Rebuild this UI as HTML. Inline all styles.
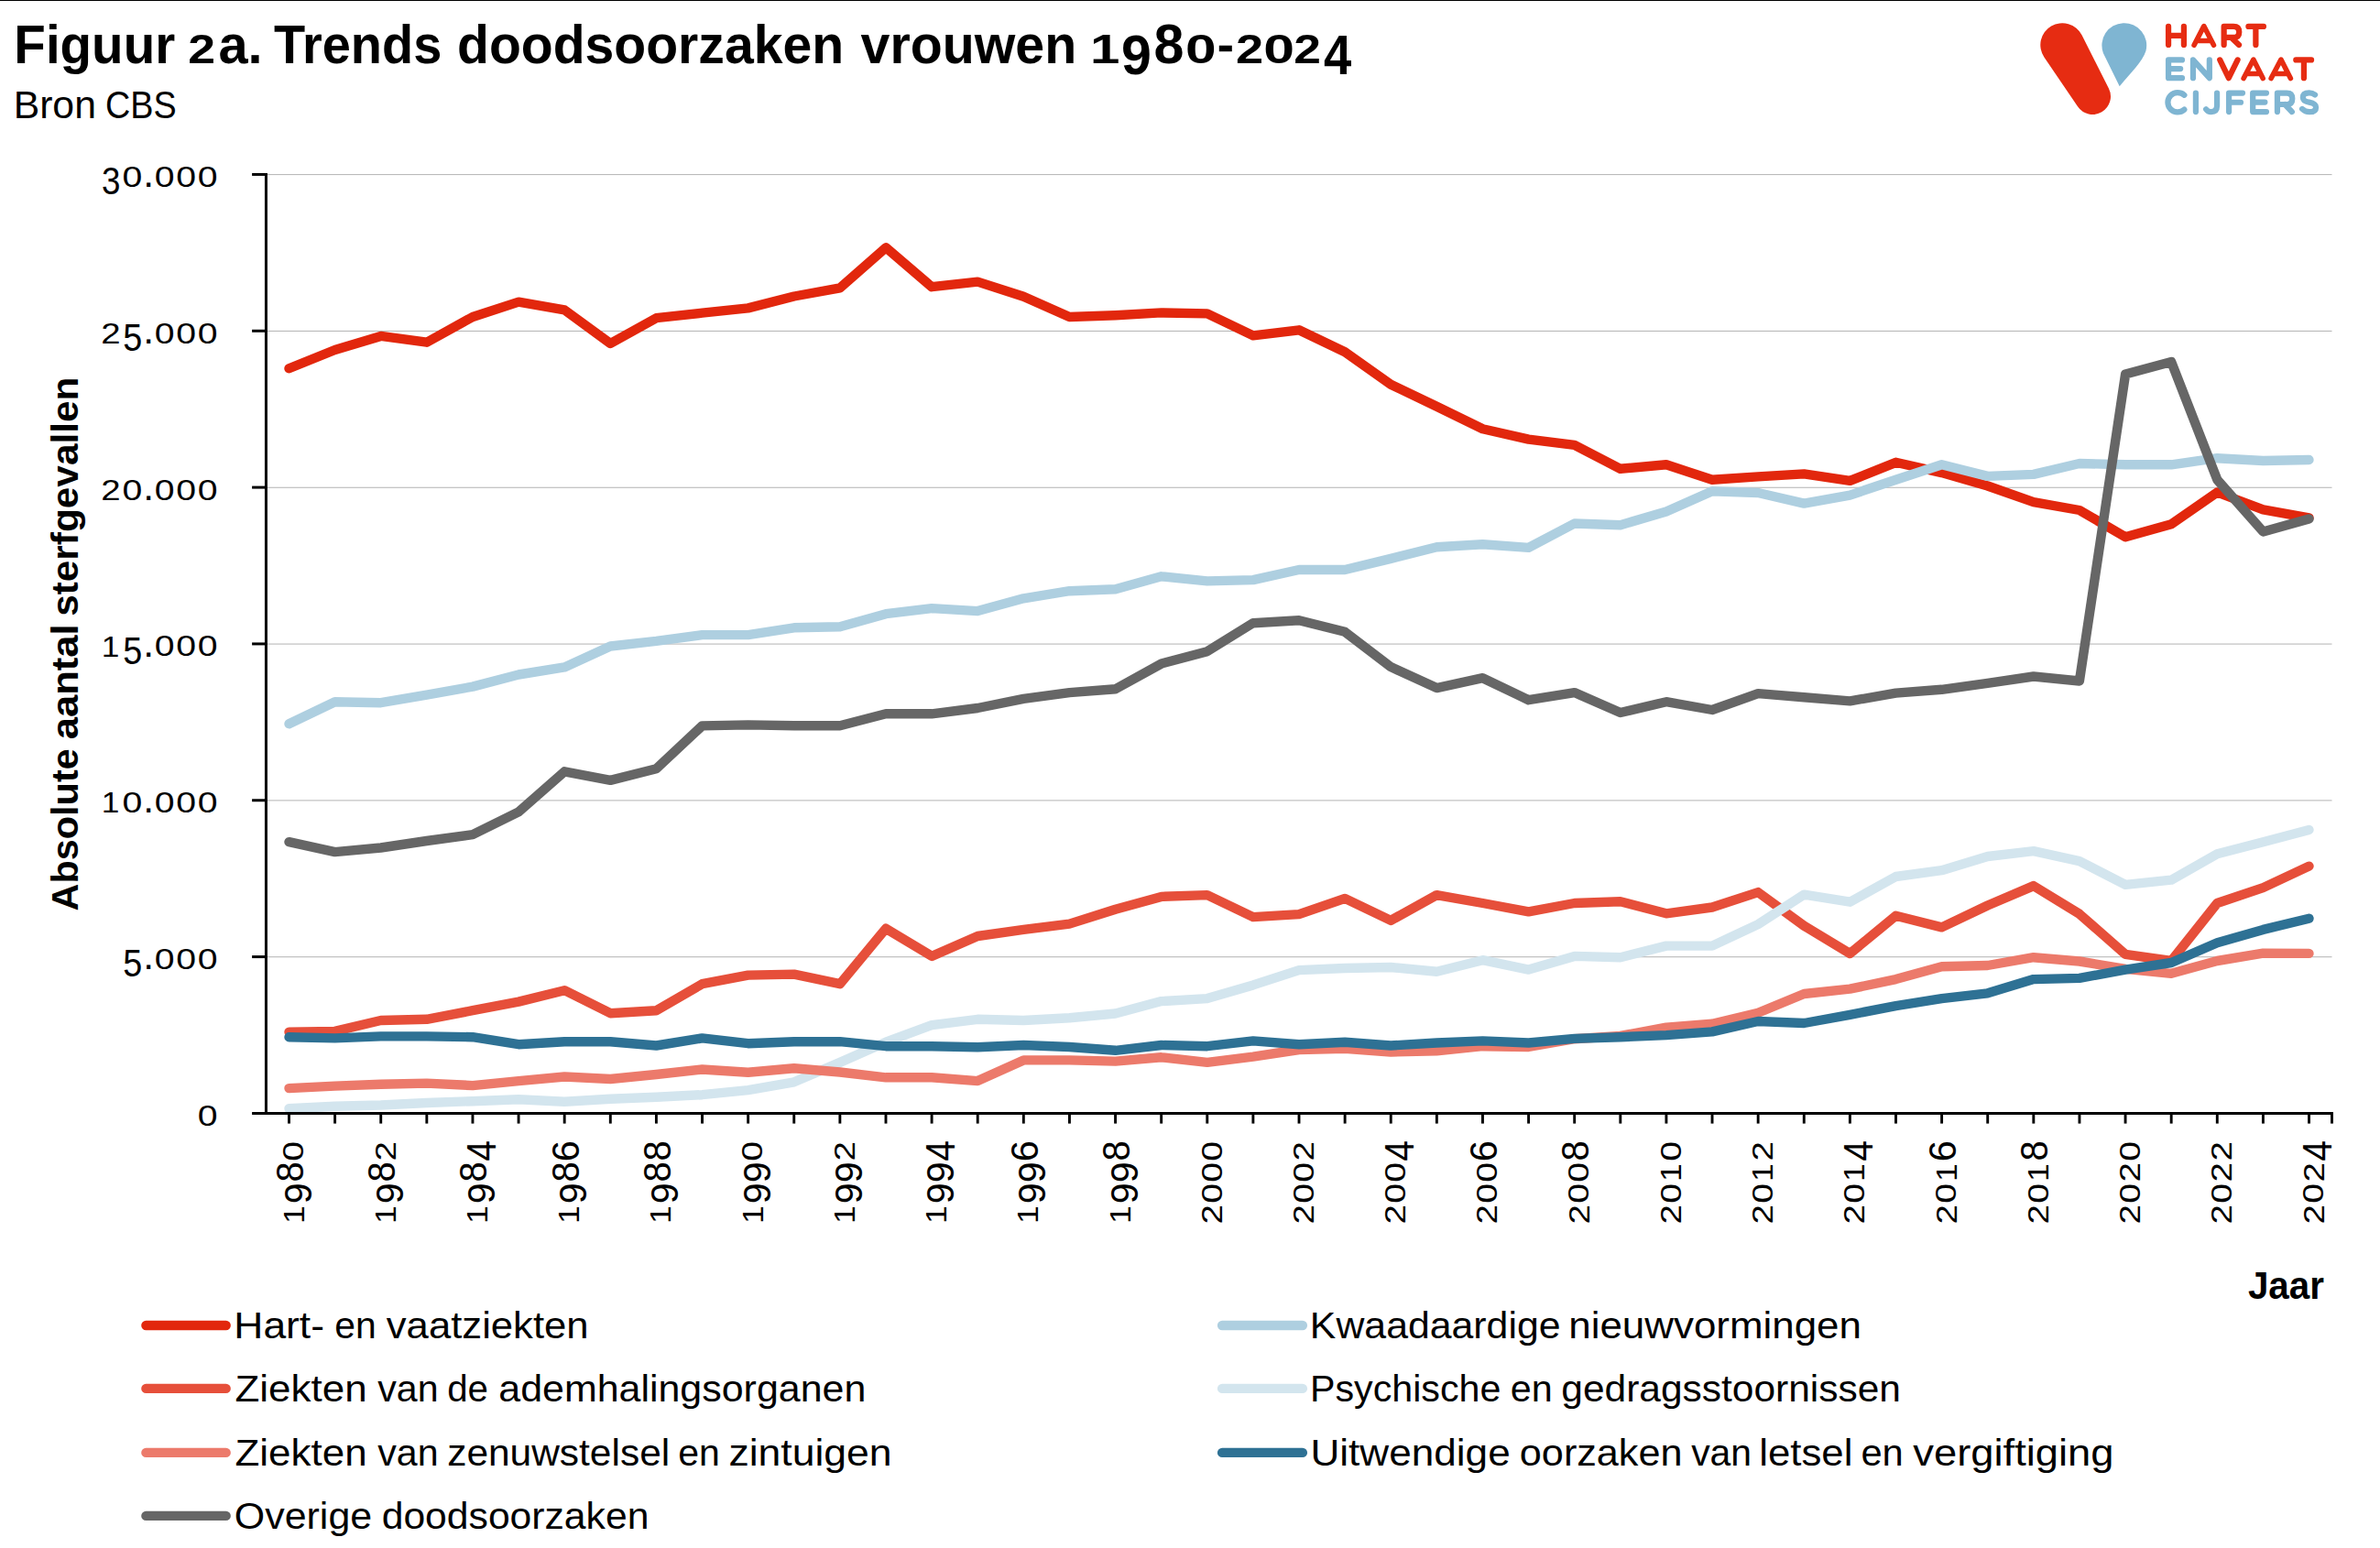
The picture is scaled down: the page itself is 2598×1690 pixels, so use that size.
<!DOCTYPE html>
<html lang="nl"><head><meta charset="utf-8"><title>Figuur 2a. Trends doodsoorzaken vrouwen 1980-2024</title>
<style>html,body{margin:0;padding:0;background:#fff}body{width:2598px;height:1690px;overflow:hidden;font-family:"Liberation Sans",sans-serif}svg{display:block}text{font-family:"Liberation Sans",sans-serif;fill:#000}</style>
</head><body>
<svg width="2598" height="1690" viewBox="0 0 2598 1690" role="img" aria-label="Figuur 2a. Trends doodsoorzaken vrouwen 1980-2024">
<rect x="0" y="0" width="2598" height="1690" fill="#fff"/>
<rect x="0" y="0" width="2598" height="1" fill="#000"/>
<text x="15.37" y="68.80" font-size="58.5" font-weight="bold" textLength="175.83" lengthAdjust="spacingAndGlyphs">Figuur</text>
<text transform="translate(205.32,68.90) scale(0.8933,0.7467)" font-size="60" font-weight="bold">2</text>
<text x="238.40" y="68.80" font-size="58.5" font-weight="bold" textLength="48.22" lengthAdjust="spacingAndGlyphs">a.</text>
<text x="298.90" y="68.80" font-size="58.5" font-weight="bold" textLength="183.37" lengthAdjust="spacingAndGlyphs">Trends</text>
<text x="499.02" y="68.80" font-size="58.5" font-weight="bold" textLength="422.05" lengthAdjust="spacingAndGlyphs">doodsoorzaken</text>
<text x="939.50" y="68.80" font-size="58.5" font-weight="bold" textLength="235.67" lengthAdjust="spacingAndGlyphs">vrouwen</text>
<text transform="translate(1190.06,68.90) scale(0.9707,0.7396)" font-size="60" font-weight="bold">1</text>
<text transform="translate(1224.05,80.64) scale(0.9867,1.0249)" font-size="60" font-weight="bold">9</text>
<text transform="translate(1259.55,68.74) scale(0.9867,1.0226)" font-size="60" font-weight="bold">8</text>
<text transform="translate(1294.01,69.00) scale(1.0082,0.7490)" font-size="60" font-weight="bold">0</text>
<text transform="translate(1348.91,68.90) scale(0.9033,0.7467)" font-size="60" font-weight="bold">2</text>
<text transform="translate(1379.30,69.00) scale(1.0116,0.7490)" font-size="60" font-weight="bold">0</text>
<text transform="translate(1412.13,68.90) scale(0.8900,0.7467)" font-size="60" font-weight="bold">2</text>
<text transform="translate(1445.10,81.00) scale(0.9067,1.0264)" font-size="60" font-weight="bold">4</text>
<rect x="1330.8" y="49.7" width="14" height="6.5" fill="#000"/>
<text x="14.66" y="129.40" font-size="41.7" textLength="90.24" lengthAdjust="spacingAndGlyphs">Bron</text>
<text x="115.03" y="129.40" font-size="41.7" textLength="77.66" lengthAdjust="spacingAndGlyphs">CBS</text>
<g stroke="#B3B3B3" stroke-width="1">
<line x1="290.45" y1="1044.73" x2="2545.5" y2="1044.73"/>
<line x1="290.45" y1="873.90" x2="2545.5" y2="873.90"/>
<line x1="290.45" y1="703.08" x2="2545.5" y2="703.08"/>
<line x1="290.45" y1="532.25" x2="2545.5" y2="532.25"/>
<line x1="290.45" y1="361.43" x2="2545.5" y2="361.43"/>
<line x1="290.45" y1="190.60" x2="2545.5" y2="190.60"/>
</g>
<g fill="none" stroke-width="10.4" stroke-linecap="round" stroke-linejoin="round">
<polyline stroke="#E2270D" points="315.5,402.2 365.6,382.0 415.7,366.9 465.8,373.7 516.0,346.0 566.1,329.6 616.2,338.4 666.3,375.0 716.4,347.2 766.5,341.7 816.6,336.4 866.8,323.5 916.9,314.4 967.0,270.3 1017.1,313.2 1067.2,307.6 1117.3,323.8 1167.4,346.0 1217.6,344.2 1267.7,341.4 1317.8,342.4 1367.9,366.4 1418.0,360.3 1468.1,384.3 1518.2,419.8 1568.3,443.8 1618.5,468.2 1668.6,479.6 1718.7,485.9 1768.8,511.8 1818.9,507.3 1869.0,523.7 1919.1,520.4 1969.3,517.4 2019.4,524.9 2069.5,504.8 2119.6,516.1 2169.7,530.5 2219.8,548.1 2269.9,557.0 2320.1,586.2 2370.2,572.3 2420.3,537.5 2470.4,556.4 2520.5,565.3"/>
<polyline stroke="#AECFE0" points="315.5,790.2 365.6,766.2 415.7,767.2 465.8,758.6 516.0,749.6 566.1,736.5 616.2,728.4 666.3,705.5 716.4,699.9 766.5,693.1 816.6,693.1 866.8,685.3 916.9,684.3 967.0,670.2 1017.1,664.1 1067.2,667.1 1117.3,653.3 1167.4,645.2 1217.6,643.2 1267.7,629.3 1317.8,634.4 1367.9,633.1 1418.0,622.0 1468.1,622.0 1518.2,609.9 1568.3,597.2 1618.5,594.2 1668.6,597.9 1718.7,571.5 1768.8,573.2 1818.9,558.5 1869.0,536.3 1919.1,538.0 1969.3,549.6 2019.4,540.6 2069.5,523.7 2119.6,507.3 2169.7,519.9 2219.8,517.9 2269.9,506.0 2320.1,507.3 2370.2,507.3 2420.3,500.2 2470.4,503.0 2520.5,502.0"/>
<polyline stroke="#E64F3A" points="315.5,1126.6 365.6,1125.9 415.7,1114.0 465.8,1112.8 516.0,1103.2 566.1,1093.6 616.2,1081.2 666.3,1106.2 716.4,1103.2 766.5,1074.2 816.6,1064.6 866.8,1063.6 916.9,1074.2 967.0,1013.7 1017.1,1043.9 1067.2,1022.0 1117.3,1014.9 1167.4,1008.6 1217.6,992.8 1267.7,978.9 1317.8,977.1 1367.9,1001.1 1418.0,998.1 1468.1,980.9 1518.2,1004.9 1568.3,977.1 1618.5,986.0 1668.6,995.3 1718.7,986.0 1768.8,984.2 1818.9,997.3 1869.0,990.5 1919.1,974.1 1969.3,1010.7 2019.4,1041.0 2069.5,999.8 2119.6,1012.4 2169.7,988.5 2219.8,967.1 2269.9,997.8 2320.1,1041.9 2370.2,1049.0 2420.3,986.0 2470.4,969.1 2520.5,945.6"/>
<polyline stroke="#D3E5EE" points="315.5,1210.3 365.6,1207.8 415.7,1206.5 465.8,1204.0 516.0,1202.2 566.1,1200.2 616.2,1202.7 666.3,1199.7 716.4,1197.7 766.5,1195.2 816.6,1190.1 866.8,1181.3 916.9,1159.9 967.0,1137.7 1017.1,1119.1 1067.2,1112.8 1117.3,1114.0 1167.4,1111.2 1217.6,1106.5 1267.7,1093.1 1317.8,1090.1 1367.9,1075.4 1418.0,1059.1 1468.1,1057.0 1518.2,1056.0 1568.3,1060.8 1618.5,1048.2 1668.6,1058.6 1718.7,1043.9 1768.8,1045.2 1818.9,1032.6 1869.0,1032.6 1919.1,1009.1 1969.3,976.6 2019.4,984.7 2069.5,957.0 2119.6,950.2 2169.7,935.0 2219.8,929.2 2269.9,940.1 2320.1,965.8 2370.2,960.7 2420.3,932.3 2470.4,919.2 2520.5,906.0"/>
<polyline stroke="#EC7A6B" points="315.5,1188.1 365.6,1185.6 415.7,1183.8 465.8,1182.6 516.0,1185.1 566.1,1180.1 616.2,1175.5 666.3,1178.0 716.4,1173.0 766.5,1167.5 816.6,1170.7 866.8,1166.2 916.9,1170.5 967.0,1176.3 1017.1,1176.3 1067.2,1180.1 1117.3,1157.4 1167.4,1157.4 1217.6,1158.6 1267.7,1154.3 1317.8,1159.9 1367.9,1153.6 1418.0,1146.0 1468.1,1144.8 1518.2,1148.5 1568.3,1147.3 1618.5,1142.2 1668.6,1143.0 1718.7,1134.2 1768.8,1130.9 1818.9,1121.6 1869.0,1117.8 1919.1,1105.7 1969.3,1085.0 2019.4,1079.7 2069.5,1069.1 2119.6,1055.3 2169.7,1054.0 2219.8,1045.2 2269.9,1049.5 2320.1,1057.8 2370.2,1062.8 2420.3,1049.0 2470.4,1040.7 2520.5,1040.9"/>
<polyline stroke="#2E7194" points="315.5,1132.2 365.6,1133.4 415.7,1131.4 465.8,1131.4 516.0,1132.2 566.1,1140.2 616.2,1137.2 666.3,1137.2 716.4,1141.5 766.5,1133.4 816.6,1139.2 866.8,1137.2 916.9,1137.2 967.0,1142.2 1017.1,1142.2 1067.2,1143.3 1117.3,1141.0 1167.4,1143.0 1217.6,1146.8 1267.7,1141.0 1317.8,1142.2 1367.9,1136.4 1418.0,1140.2 1468.1,1137.7 1518.2,1141.5 1568.3,1138.5 1618.5,1136.4 1668.6,1138.5 1718.7,1133.9 1768.8,1132.2 1818.9,1130.1 1869.0,1126.4 1919.1,1115.0 1969.3,1117.0 2019.4,1107.8 2069.5,1098.1 2119.6,1090.1 2169.7,1084.3 2219.8,1069.1 2269.9,1067.9 2320.1,1058.6 2370.2,1051.0 2420.3,1029.3 2470.4,1014.9 2520.5,1002.8"/>
<polyline stroke="#666666" points="315.5,919.2 365.6,930.1 415.7,925.5 465.8,918.0 516.0,911.2 566.1,886.4 616.2,842.3 666.3,851.9 716.4,839.3 766.5,792.4 816.6,791.4 866.8,792.2 916.9,792.2 967.0,779.3 1017.1,779.3 1067.2,773.0 1117.3,762.9 1167.4,756.1 1217.6,752.3 1267.7,724.6 1317.8,711.2 1367.9,680.2 1418.0,677.2 1468.1,689.8 1518.2,728.1 1568.3,751.1 1618.5,740.2 1668.6,764.2 1718.7,756.1 1768.8,778.0 1818.9,766.2 1869.0,775.0 1919.1,757.1 1969.3,761.2 2019.4,765.4 2069.5,756.6 2119.6,752.8 2169.7,745.8 2219.8,738.5 2269.9,743.5 2320.1,408.5 2370.2,395.1 2420.3,523.7 2470.4,580.4 2520.5,566.5"/>
</g>
<g stroke="#000" stroke-width="3.0" fill="none">
<line x1="290.45" y1="189.00" x2="290.45" y2="1216.80"/>
<line x1="275.1" y1="1215.4" x2="2546.95" y2="1215.4"/>
<line x1="275.1" y1="1044.58" x2="290.45" y2="1044.58"/>
<line x1="275.1" y1="873.75" x2="290.45" y2="873.75"/>
<line x1="275.1" y1="702.93" x2="290.45" y2="702.93"/>
<line x1="275.1" y1="532.10" x2="290.45" y2="532.10"/>
<line x1="275.1" y1="361.28" x2="290.45" y2="361.28"/>
<line x1="275.1" y1="190.45" x2="290.45" y2="190.45"/>
</g>
<g stroke="#000" stroke-width="2.9" fill="none">
<line x1="315.50" y1="1215.4" x2="315.50" y2="1226.6"/>
<line x1="365.61" y1="1215.4" x2="365.61" y2="1226.6"/>
<line x1="415.73" y1="1215.4" x2="415.73" y2="1226.6"/>
<line x1="465.84" y1="1215.4" x2="465.84" y2="1226.6"/>
<line x1="515.96" y1="1215.4" x2="515.96" y2="1226.6"/>
<line x1="566.07" y1="1215.4" x2="566.07" y2="1226.6"/>
<line x1="616.18" y1="1215.4" x2="616.18" y2="1226.6"/>
<line x1="666.30" y1="1215.4" x2="666.30" y2="1226.6"/>
<line x1="716.41" y1="1215.4" x2="716.41" y2="1226.6"/>
<line x1="766.53" y1="1215.4" x2="766.53" y2="1226.6"/>
<line x1="816.64" y1="1215.4" x2="816.64" y2="1226.6"/>
<line x1="866.75" y1="1215.4" x2="866.75" y2="1226.6"/>
<line x1="916.87" y1="1215.4" x2="916.87" y2="1226.6"/>
<line x1="966.98" y1="1215.4" x2="966.98" y2="1226.6"/>
<line x1="1017.10" y1="1215.4" x2="1017.10" y2="1226.6"/>
<line x1="1067.21" y1="1215.4" x2="1067.21" y2="1226.6"/>
<line x1="1117.32" y1="1215.4" x2="1117.32" y2="1226.6"/>
<line x1="1167.44" y1="1215.4" x2="1167.44" y2="1226.6"/>
<line x1="1217.55" y1="1215.4" x2="1217.55" y2="1226.6"/>
<line x1="1267.67" y1="1215.4" x2="1267.67" y2="1226.6"/>
<line x1="1317.78" y1="1215.4" x2="1317.78" y2="1226.6"/>
<line x1="1367.89" y1="1215.4" x2="1367.89" y2="1226.6"/>
<line x1="1418.01" y1="1215.4" x2="1418.01" y2="1226.6"/>
<line x1="1468.12" y1="1215.4" x2="1468.12" y2="1226.6"/>
<line x1="1518.24" y1="1215.4" x2="1518.24" y2="1226.6"/>
<line x1="1568.35" y1="1215.4" x2="1568.35" y2="1226.6"/>
<line x1="1618.46" y1="1215.4" x2="1618.46" y2="1226.6"/>
<line x1="1668.58" y1="1215.4" x2="1668.58" y2="1226.6"/>
<line x1="1718.69" y1="1215.4" x2="1718.69" y2="1226.6"/>
<line x1="1768.81" y1="1215.4" x2="1768.81" y2="1226.6"/>
<line x1="1818.92" y1="1215.4" x2="1818.92" y2="1226.6"/>
<line x1="1869.03" y1="1215.4" x2="1869.03" y2="1226.6"/>
<line x1="1919.15" y1="1215.4" x2="1919.15" y2="1226.6"/>
<line x1="1969.26" y1="1215.4" x2="1969.26" y2="1226.6"/>
<line x1="2019.38" y1="1215.4" x2="2019.38" y2="1226.6"/>
<line x1="2069.49" y1="1215.4" x2="2069.49" y2="1226.6"/>
<line x1="2119.60" y1="1215.4" x2="2119.60" y2="1226.6"/>
<line x1="2169.72" y1="1215.4" x2="2169.72" y2="1226.6"/>
<line x1="2219.83" y1="1215.4" x2="2219.83" y2="1226.6"/>
<line x1="2269.95" y1="1215.4" x2="2269.95" y2="1226.6"/>
<line x1="2320.06" y1="1215.4" x2="2320.06" y2="1226.6"/>
<line x1="2370.17" y1="1215.4" x2="2370.17" y2="1226.6"/>
<line x1="2420.29" y1="1215.4" x2="2420.29" y2="1226.6"/>
<line x1="2470.40" y1="1215.4" x2="2470.40" y2="1226.6"/>
<line x1="2520.52" y1="1215.4" x2="2520.52" y2="1226.6"/>
<line x1="2545.5" y1="1215.4" x2="2545.5" y2="1226.6"/>
</g>
<text transform="translate(215.77,1228.90) scale(0.9224,0.7529)" font-size="42.5">0</text>
<text transform="translate(134.16,1066.30) scale(0.8890,1.0181)" font-size="42.5">5</text>
<text x="156.24" y="1058.28" font-size="42.5">.</text>
<text transform="translate(168.77,1058.08) scale(0.9224,0.7529)" font-size="42.5">0</text>
<text transform="translate(192.27,1058.08) scale(0.9224,0.7529)" font-size="42.5">0</text>
<text transform="translate(215.77,1058.08) scale(0.9224,0.7529)" font-size="42.5">0</text>
<text transform="translate(110.79,887.45) scale(0.8308,0.7496)" font-size="42.5">1</text>
<text transform="translate(133.47,887.25) scale(0.9224,0.7529)" font-size="42.5">0</text>
<text x="156.24" y="887.45" font-size="42.5">.</text>
<text transform="translate(168.77,887.25) scale(0.9224,0.7529)" font-size="42.5">0</text>
<text transform="translate(192.27,887.25) scale(0.9224,0.7529)" font-size="42.5">0</text>
<text transform="translate(215.77,887.25) scale(0.9224,0.7529)" font-size="42.5">0</text>
<text transform="translate(110.79,716.63) scale(0.8308,0.7496)" font-size="42.5">1</text>
<text transform="translate(134.16,724.65) scale(0.8890,1.0181)" font-size="42.5">5</text>
<text x="156.24" y="716.63" font-size="42.5">.</text>
<text transform="translate(168.77,716.43) scale(0.9224,0.7529)" font-size="42.5">0</text>
<text transform="translate(192.27,716.43) scale(0.9224,0.7529)" font-size="42.5">0</text>
<text transform="translate(215.77,716.43) scale(0.9224,0.7529)" font-size="42.5">0</text>
<text transform="translate(110.19,545.80) scale(0.9035,0.7496)" font-size="42.5">2</text>
<text transform="translate(133.47,545.60) scale(0.9224,0.7529)" font-size="42.5">0</text>
<text x="156.24" y="545.80" font-size="42.5">.</text>
<text transform="translate(168.77,545.60) scale(0.9224,0.7529)" font-size="42.5">0</text>
<text transform="translate(192.27,545.60) scale(0.9224,0.7529)" font-size="42.5">0</text>
<text transform="translate(215.77,545.60) scale(0.9224,0.7529)" font-size="42.5">0</text>
<text transform="translate(110.19,374.98) scale(0.9035,0.7496)" font-size="42.5">2</text>
<text transform="translate(134.16,383.00) scale(0.8890,1.0181)" font-size="42.5">5</text>
<text x="156.24" y="374.98" font-size="42.5">.</text>
<text transform="translate(168.77,374.78) scale(0.9224,0.7529)" font-size="42.5">0</text>
<text transform="translate(192.27,374.78) scale(0.9224,0.7529)" font-size="42.5">0</text>
<text transform="translate(215.77,374.78) scale(0.9224,0.7529)" font-size="42.5">0</text>
<text transform="translate(110.94,212.17) scale(0.8647,1.0181)" font-size="42.5">3</text>
<text transform="translate(133.47,203.95) scale(0.9224,0.7529)" font-size="42.5">0</text>
<text x="156.24" y="204.15" font-size="42.5">.</text>
<text transform="translate(168.77,203.95) scale(0.9224,0.7529)" font-size="42.5">0</text>
<text transform="translate(192.27,203.95) scale(0.9224,0.7529)" font-size="42.5">0</text>
<text transform="translate(215.77,203.95) scale(0.9224,0.7529)" font-size="42.5">0</text>
<g transform="translate(331.50,1337.3) rotate(-90)">
<text transform="translate(1.32,0.00) scale(0.8308,0.7496)" font-size="42.5">1</text>
<text transform="translate(23.00,8.02) scale(0.9688,1.0181)" font-size="42.5">9</text>
<text transform="translate(46.73,-0.68) scale(0.9375,1.0181)" font-size="42.5">8</text>
<text transform="translate(69.65,-0.20) scale(0.9224,0.7529)" font-size="42.5">0</text>
</g>
<g transform="translate(431.73,1337.3) rotate(-90)">
<text transform="translate(1.32,0.00) scale(0.8308,0.7496)" font-size="42.5">1</text>
<text transform="translate(23.00,8.02) scale(0.9688,1.0181)" font-size="42.5">9</text>
<text transform="translate(46.73,-0.68) scale(0.9375,1.0181)" font-size="42.5">8</text>
<text transform="translate(69.88,0.00) scale(0.9035,0.7496)" font-size="42.5">2</text>
</g>
<g transform="translate(531.96,1337.3) rotate(-90)">
<text transform="translate(1.32,0.00) scale(0.8308,0.7496)" font-size="42.5">1</text>
<text transform="translate(23.00,8.02) scale(0.9688,1.0181)" font-size="42.5">9</text>
<text transform="translate(46.73,-0.68) scale(0.9375,1.0181)" font-size="42.5">8</text>
<text transform="translate(69.54,8.70) scale(0.9583,1.0407)" font-size="42.5">4</text>
</g>
<g transform="translate(632.18,1337.3) rotate(-90)">
<text transform="translate(1.32,0.00) scale(0.8308,0.7496)" font-size="42.5">1</text>
<text transform="translate(23.00,8.02) scale(0.9688,1.0181)" font-size="42.5">9</text>
<text transform="translate(46.73,-0.68) scale(0.9375,1.0181)" font-size="42.5">8</text>
<text transform="translate(68.98,-0.68) scale(0.9788,1.0181)" font-size="42.5">6</text>
</g>
<g transform="translate(732.41,1337.3) rotate(-90)">
<text transform="translate(1.32,0.00) scale(0.8308,0.7496)" font-size="42.5">1</text>
<text transform="translate(23.00,8.02) scale(0.9688,1.0181)" font-size="42.5">9</text>
<text transform="translate(46.73,-0.68) scale(0.9375,1.0181)" font-size="42.5">8</text>
<text transform="translate(69.78,-0.68) scale(0.9375,1.0181)" font-size="42.5">8</text>
</g>
<g transform="translate(832.64,1337.3) rotate(-90)">
<text transform="translate(1.32,0.00) scale(0.8308,0.7496)" font-size="42.5">1</text>
<text transform="translate(23.00,8.02) scale(0.9688,1.0181)" font-size="42.5">9</text>
<text transform="translate(46.05,8.02) scale(0.9688,1.0181)" font-size="42.5">9</text>
<text transform="translate(69.65,-0.20) scale(0.9224,0.7529)" font-size="42.5">0</text>
</g>
<g transform="translate(932.87,1337.3) rotate(-90)">
<text transform="translate(1.32,0.00) scale(0.8308,0.7496)" font-size="42.5">1</text>
<text transform="translate(23.00,8.02) scale(0.9688,1.0181)" font-size="42.5">9</text>
<text transform="translate(46.05,8.02) scale(0.9688,1.0181)" font-size="42.5">9</text>
<text transform="translate(69.88,0.00) scale(0.9035,0.7496)" font-size="42.5">2</text>
</g>
<g transform="translate(1033.10,1337.3) rotate(-90)">
<text transform="translate(1.32,0.00) scale(0.8308,0.7496)" font-size="42.5">1</text>
<text transform="translate(23.00,8.02) scale(0.9688,1.0181)" font-size="42.5">9</text>
<text transform="translate(46.05,8.02) scale(0.9688,1.0181)" font-size="42.5">9</text>
<text transform="translate(69.54,8.70) scale(0.9583,1.0407)" font-size="42.5">4</text>
</g>
<g transform="translate(1133.32,1337.3) rotate(-90)">
<text transform="translate(1.32,0.00) scale(0.8308,0.7496)" font-size="42.5">1</text>
<text transform="translate(23.00,8.02) scale(0.9688,1.0181)" font-size="42.5">9</text>
<text transform="translate(46.05,8.02) scale(0.9688,1.0181)" font-size="42.5">9</text>
<text transform="translate(68.98,-0.68) scale(0.9788,1.0181)" font-size="42.5">6</text>
</g>
<g transform="translate(1233.55,1337.3) rotate(-90)">
<text transform="translate(1.32,0.00) scale(0.8308,0.7496)" font-size="42.5">1</text>
<text transform="translate(23.00,8.02) scale(0.9688,1.0181)" font-size="42.5">9</text>
<text transform="translate(46.05,8.02) scale(0.9688,1.0181)" font-size="42.5">9</text>
<text transform="translate(69.78,-0.68) scale(0.9375,1.0181)" font-size="42.5">8</text>
</g>
<g transform="translate(1333.78,1337.3) rotate(-90)">
<text transform="translate(0.73,0.00) scale(0.9035,0.7496)" font-size="42.5">2</text>
<text transform="translate(23.55,-0.20) scale(0.9224,0.7529)" font-size="42.5">0</text>
<text transform="translate(46.60,-0.20) scale(0.9224,0.7529)" font-size="42.5">0</text>
<text transform="translate(69.65,-0.20) scale(0.9224,0.7529)" font-size="42.5">0</text>
</g>
<g transform="translate(1434.01,1337.3) rotate(-90)">
<text transform="translate(0.73,0.00) scale(0.9035,0.7496)" font-size="42.5">2</text>
<text transform="translate(23.55,-0.20) scale(0.9224,0.7529)" font-size="42.5">0</text>
<text transform="translate(46.60,-0.20) scale(0.9224,0.7529)" font-size="42.5">0</text>
<text transform="translate(69.88,0.00) scale(0.9035,0.7496)" font-size="42.5">2</text>
</g>
<g transform="translate(1534.24,1337.3) rotate(-90)">
<text transform="translate(0.73,0.00) scale(0.9035,0.7496)" font-size="42.5">2</text>
<text transform="translate(23.55,-0.20) scale(0.9224,0.7529)" font-size="42.5">0</text>
<text transform="translate(46.60,-0.20) scale(0.9224,0.7529)" font-size="42.5">0</text>
<text transform="translate(69.54,8.70) scale(0.9583,1.0407)" font-size="42.5">4</text>
</g>
<g transform="translate(1634.46,1337.3) rotate(-90)">
<text transform="translate(0.73,0.00) scale(0.9035,0.7496)" font-size="42.5">2</text>
<text transform="translate(23.55,-0.20) scale(0.9224,0.7529)" font-size="42.5">0</text>
<text transform="translate(46.60,-0.20) scale(0.9224,0.7529)" font-size="42.5">0</text>
<text transform="translate(68.98,-0.68) scale(0.9788,1.0181)" font-size="42.5">6</text>
</g>
<g transform="translate(1734.69,1337.3) rotate(-90)">
<text transform="translate(0.73,0.00) scale(0.9035,0.7496)" font-size="42.5">2</text>
<text transform="translate(23.55,-0.20) scale(0.9224,0.7529)" font-size="42.5">0</text>
<text transform="translate(46.60,-0.20) scale(0.9224,0.7529)" font-size="42.5">0</text>
<text transform="translate(69.78,-0.68) scale(0.9375,1.0181)" font-size="42.5">8</text>
</g>
<g transform="translate(1834.92,1337.3) rotate(-90)">
<text transform="translate(0.73,0.00) scale(0.9035,0.7496)" font-size="42.5">2</text>
<text transform="translate(23.55,-0.20) scale(0.9224,0.7529)" font-size="42.5">0</text>
<text transform="translate(47.42,0.00) scale(0.8308,0.7496)" font-size="42.5">1</text>
<text transform="translate(69.65,-0.20) scale(0.9224,0.7529)" font-size="42.5">0</text>
</g>
<g transform="translate(1935.15,1337.3) rotate(-90)">
<text transform="translate(0.73,0.00) scale(0.9035,0.7496)" font-size="42.5">2</text>
<text transform="translate(23.55,-0.20) scale(0.9224,0.7529)" font-size="42.5">0</text>
<text transform="translate(47.42,0.00) scale(0.8308,0.7496)" font-size="42.5">1</text>
<text transform="translate(69.88,0.00) scale(0.9035,0.7496)" font-size="42.5">2</text>
</g>
<g transform="translate(2035.38,1337.3) rotate(-90)">
<text transform="translate(0.73,0.00) scale(0.9035,0.7496)" font-size="42.5">2</text>
<text transform="translate(23.55,-0.20) scale(0.9224,0.7529)" font-size="42.5">0</text>
<text transform="translate(47.42,0.00) scale(0.8308,0.7496)" font-size="42.5">1</text>
<text transform="translate(69.54,8.70) scale(0.9583,1.0407)" font-size="42.5">4</text>
</g>
<g transform="translate(2135.60,1337.3) rotate(-90)">
<text transform="translate(0.73,0.00) scale(0.9035,0.7496)" font-size="42.5">2</text>
<text transform="translate(23.55,-0.20) scale(0.9224,0.7529)" font-size="42.5">0</text>
<text transform="translate(47.42,0.00) scale(0.8308,0.7496)" font-size="42.5">1</text>
<text transform="translate(68.98,-0.68) scale(0.9788,1.0181)" font-size="42.5">6</text>
</g>
<g transform="translate(2235.83,1337.3) rotate(-90)">
<text transform="translate(0.73,0.00) scale(0.9035,0.7496)" font-size="42.5">2</text>
<text transform="translate(23.55,-0.20) scale(0.9224,0.7529)" font-size="42.5">0</text>
<text transform="translate(47.42,0.00) scale(0.8308,0.7496)" font-size="42.5">1</text>
<text transform="translate(69.78,-0.68) scale(0.9375,1.0181)" font-size="42.5">8</text>
</g>
<g transform="translate(2336.06,1337.3) rotate(-90)">
<text transform="translate(0.73,0.00) scale(0.9035,0.7496)" font-size="42.5">2</text>
<text transform="translate(23.55,-0.20) scale(0.9224,0.7529)" font-size="42.5">0</text>
<text transform="translate(46.83,0.00) scale(0.9035,0.7496)" font-size="42.5">2</text>
<text transform="translate(69.65,-0.20) scale(0.9224,0.7529)" font-size="42.5">0</text>
</g>
<g transform="translate(2436.29,1337.3) rotate(-90)">
<text transform="translate(0.73,0.00) scale(0.9035,0.7496)" font-size="42.5">2</text>
<text transform="translate(23.55,-0.20) scale(0.9224,0.7529)" font-size="42.5">0</text>
<text transform="translate(46.83,0.00) scale(0.9035,0.7496)" font-size="42.5">2</text>
<text transform="translate(69.88,0.00) scale(0.9035,0.7496)" font-size="42.5">2</text>
</g>
<g transform="translate(2536.52,1337.3) rotate(-90)">
<text transform="translate(0.73,0.00) scale(0.9035,0.7496)" font-size="42.5">2</text>
<text transform="translate(23.55,-0.20) scale(0.9224,0.7529)" font-size="42.5">0</text>
<text transform="translate(46.83,0.00) scale(0.9035,0.7496)" font-size="42.5">2</text>
<text transform="translate(69.54,8.70) scale(0.9583,1.0407)" font-size="42.5">4</text>
</g>
<text transform="translate(85.00,993.80) rotate(-90)" x="-0.65" y="0.00" font-size="41.5" font-weight="bold" textLength="177.18" lengthAdjust="spacingAndGlyphs">Absolute</text>
<text transform="translate(85.00,993.80) rotate(-90)" x="186.52" y="0.00" font-size="41.5" font-weight="bold" textLength="125.85" lengthAdjust="spacingAndGlyphs">aantal</text>
<text transform="translate(85.00,993.80) rotate(-90)" x="320.98" y="0.00" font-size="41.5" font-weight="bold" textLength="261.27" lengthAdjust="spacingAndGlyphs">sterfgevallen</text>
<text x="2453.90" y="1417.90" font-size="41.9" font-weight="bold" textLength="82.97" lengthAdjust="spacingAndGlyphs">Jaar</text>
<g fill="none" stroke-width="10.4" stroke-linecap="round">
<line x1="159.4" y1="1447.0" x2="246.7" y2="1447.0" stroke="#E2270D"/>
<line x1="159.4" y1="1515.9" x2="246.7" y2="1515.9" stroke="#E64F3A"/>
<line x1="159.4" y1="1585.9" x2="246.7" y2="1585.9" stroke="#EC7A6B"/>
<line x1="159.4" y1="1654.9" x2="246.7" y2="1654.9" stroke="#666666"/>
<line x1="1334.1" y1="1447.0" x2="1421.9" y2="1447.0" stroke="#AECFE0"/>
<line x1="1334.1" y1="1515.9" x2="1421.9" y2="1515.9" stroke="#D3E5EE"/>
<line x1="1334.1" y1="1585.9" x2="1421.9" y2="1585.9" stroke="#2E7194"/>
</g>
<text x="255.33" y="1461.00" font-size="40.4" textLength="98.67" lengthAdjust="spacingAndGlyphs">Hart-</text>
<text x="365.32" y="1461.00" font-size="40.4" textLength="45.47" lengthAdjust="spacingAndGlyphs">en</text>
<text x="421.80" y="1461.00" font-size="40.4" textLength="220.85" lengthAdjust="spacingAndGlyphs">vaatziekten</text>
<text x="256.53" y="1529.90" font-size="40.4" textLength="144.04" lengthAdjust="spacingAndGlyphs">Ziekten</text>
<text x="412.30" y="1529.90" font-size="40.4" textLength="66.31" lengthAdjust="spacingAndGlyphs">van</text>
<text x="488.24" y="1529.90" font-size="40.4" textLength="44.79" lengthAdjust="spacingAndGlyphs">de</text>
<text x="544.26" y="1529.90" font-size="40.4" textLength="401.05" lengthAdjust="spacingAndGlyphs">ademhalingsorganen</text>
<text x="256.53" y="1599.90" font-size="40.4" textLength="144.04" lengthAdjust="spacingAndGlyphs">Ziekten</text>
<text x="412.30" y="1599.90" font-size="40.4" textLength="66.31" lengthAdjust="spacingAndGlyphs">van</text>
<text x="488.17" y="1599.90" font-size="40.4" textLength="243.02" lengthAdjust="spacingAndGlyphs">zenuwstelsel</text>
<text x="740.32" y="1599.90" font-size="40.4" textLength="45.58" lengthAdjust="spacingAndGlyphs">en</text>
<text x="795.41" y="1599.90" font-size="40.4" textLength="178.19" lengthAdjust="spacingAndGlyphs">zintuigen</text>
<text x="255.89" y="1668.90" font-size="40.4" textLength="150.25" lengthAdjust="spacingAndGlyphs">Overige</text>
<text x="416.67" y="1668.90" font-size="40.4" textLength="291.73" lengthAdjust="spacingAndGlyphs">doodsoorzaken</text>
<text x="1429.86" y="1461.00" font-size="40.4" textLength="273.68" lengthAdjust="spacingAndGlyphs">Kwaadaardige</text>
<text x="1712.26" y="1461.00" font-size="40.4" textLength="319.71" lengthAdjust="spacingAndGlyphs">nieuwvormingen</text>
<text x="1429.98" y="1529.90" font-size="40.4" textLength="208.39" lengthAdjust="spacingAndGlyphs">Psychische</text>
<text x="1648.71" y="1529.90" font-size="40.4" textLength="45.91" lengthAdjust="spacingAndGlyphs">en</text>
<text x="1704.27" y="1529.90" font-size="40.4" textLength="370.71" lengthAdjust="spacingAndGlyphs">gedragsstoornissen</text>
<text x="1430.44" y="1599.90" font-size="40.4" textLength="218.24" lengthAdjust="spacingAndGlyphs">Uitwendige</text>
<text x="1658.85" y="1599.90" font-size="40.4" textLength="177.67" lengthAdjust="spacingAndGlyphs">oorzaken</text>
<text x="1846.20" y="1599.90" font-size="40.4" textLength="65.89" lengthAdjust="spacingAndGlyphs">van</text>
<text x="1920.27" y="1599.90" font-size="40.4" textLength="102.12" lengthAdjust="spacingAndGlyphs">letsel</text>
<text x="2031.40" y="1599.90" font-size="40.4" textLength="46.34" lengthAdjust="spacingAndGlyphs">en</text>
<text x="2088.30" y="1599.90" font-size="40.4" textLength="219.25" lengthAdjust="spacingAndGlyphs">vergiftiging</text>
<g>
<path d="M2231.43,62.53 A23.9,23.9 0 1 1 2272.53,38.32 L2301.88,96.42 A19.7,19.7 0 0 1 2268.00,116.37 Z" fill="#E62C12"/>
<path d="M2313.7,94.2 L2295.9,58.0 A24.4,24.4 0 1 1 2342.4,55.7 C2338.8,66.8 2326,79.5 2313.7,94.2 Z" fill="#7FB5D2"/>
<g transform="translate(2355,15) scale(0.079834)" fill="none" stroke-width="78" stroke-linecap="round" stroke-linejoin="round">
<path stroke="#E62C12" d="M151,174V426M362,174V426M151,300H362"/>
<path stroke="#E62C12" stroke-width="70" d="M502,430L636,170L770,430M560,370H712"/>
<path stroke="#E62C12" d="M910,426V174H1040Q1118,174 1118,250Q1118,325 1040,325H910M1010,325L1115,426"/>
<path stroke="#E62C12" d="M1245,174H1452M1345,174V426"/>
<path stroke="#7FB5D2" d="M338,631H151V879H338M151,752H315"/>
<path stroke="#7FB5D2" d="M488,879V631L712,879V631"/>
<path stroke="#E62C12" d="M855,631L975,879L1097,631"/>
<path stroke="#E62C12" stroke-width="70" d="M1179,883L1313,627L1443,883M1240,820H1390"/>
<path stroke="#E62C12" stroke-width="70" d="M1555,883L1690,627L1821,883M1615,820H1765"/>
<path stroke="#E62C12" d="M1895,631H2105M2003,631V879"/>
<path stroke="#7FB5D2" d="M368,1112Q330,1080 275,1080A132,132 0 1 0 275,1344Q330,1344 368,1310"/>
<path stroke="#7FB5D2" d="M525,1084V1341"/>
<path stroke="#7FB5D2" d="M815,1084V1255Q815,1341 735,1341Q690,1341 665,1305"/>
<path stroke="#7FB5D2" d="M1165,1084H978V1341M978,1212H1140"/>
<path stroke="#7FB5D2" d="M1490,1084H1305V1341H1490M1305,1210H1470"/>
<path stroke="#7FB5D2" d="M1640,1341V1084H1770Q1845,1084 1845,1162Q1845,1240 1770,1240H1640M1745,1240L1840,1341"/>
<path stroke="#7FB5D2" d="M2155,1108Q2120,1082 2075,1082Q1990,1082 1990,1145Q1990,1195 2075,1210Q2168,1228 2168,1280Q2168,1343 2078,1343Q2020,1343 1980,1302"/>
</g></g>
</svg></body></html>
